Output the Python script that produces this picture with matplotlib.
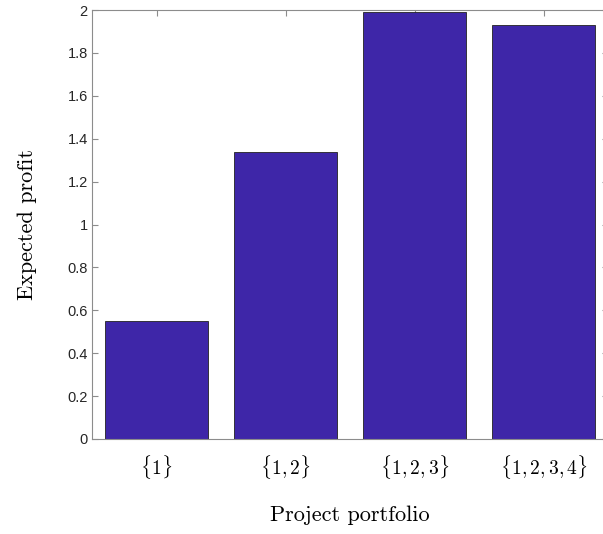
import matplotlib
matplotlib.use("Agg")
import matplotlib.pyplot as plt
import numpy as np

categories = [r"$\{1\}$", r"$\{1,2\}$", r"$\{1,2,3\}$", r"$\{1,2,3,4\}$"]
values = [0.55, 1.34, 1.99, 1.93]
yticks = [0, 0.2, 0.4, 0.6, 0.8, 1, 1.2, 1.4, 1.6, 1.8, 2]
ytick_labels = ["0", "0.2", "0.4", "0.6", "0.8", "1", "1.2", "1.4", "1.6", "1.8", "2"]

plt.rcParams['mathtext.fontset'] = 'cm'

fig = plt.figure(figsize=(6.03, 5.34), dpi=100)
ax = fig.add_axes([92/603, 1-439/534, 516/603, 429/534])

x = np.arange(1, len(values)+1)
ax.bar(x, values, width=0.8, color="#3E26A8", edgecolor="#222222", linewidth=0.6, zorder=2)

ax.set_xlim(0.5, 4.5)
ax.set_ylim(0, 2)
ax.set_xticks(x)
ax.set_xticklabels(categories, fontsize=14)
ax.set_yticks(yticks)
ax.set_yticklabels(ytick_labels, fontsize=10.5, family="Liberation Sans", color="#262626")

for s in ax.spines.values():
    s.set_color("#8c8c8c")
    s.set_linewidth(0.8)
ax.tick_params(direction="in", top=True, right=True, length=4, color="#8c8c8c", width=0.8)
ax.tick_params(axis="x", pad=10)
ax.tick_params(axis="y", pad=3)

ax.set_xlabel("Project portfolio", fontsize=16, labelpad=18)
ax.xaxis.label.set_fontfamily(["cmr10"])
ax.set_ylabel("Expected profit", fontsize=16, labelpad=22)
ax.yaxis.label.set_fontfamily(["cmr10"])

fig.savefig("out.png", dpi=100)
